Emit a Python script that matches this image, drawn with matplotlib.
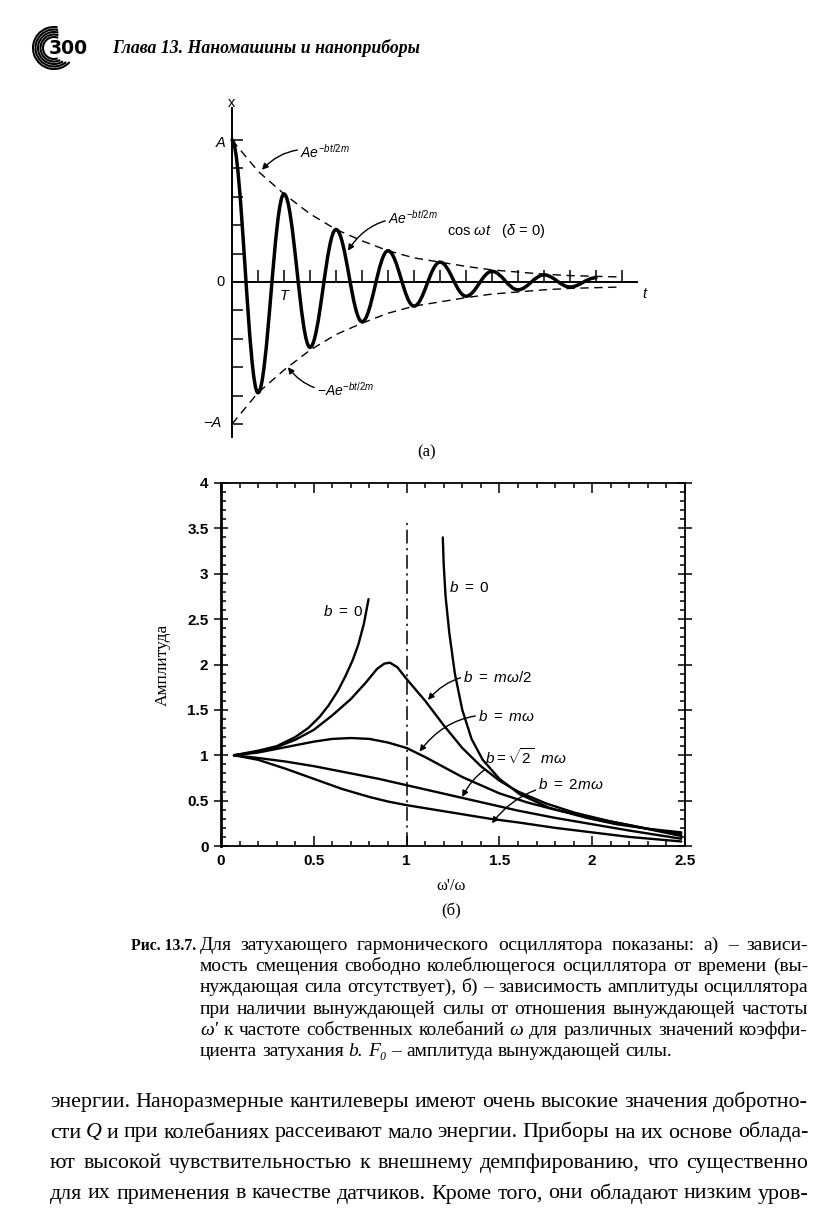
import matplotlib
matplotlib.use('Agg')
import matplotlib.pyplot as plt
from matplotlib.path import Path
from matplotlib.patches import PathPatch, Arc

plt.rcParams['mathtext.fontset'] = 'custom'
plt.rcParams['mathtext.rm'] = 'Liberation Sans'
plt.rcParams['mathtext.it'] = 'Liberation Sans:italic'
plt.rcParams['mathtext.bf'] = 'Liberation Sans:bold'

W, H = 826, 1224

# ---- panel (a): damped oscillation (tick units)
osc_t = [0, 1, 2, 3, 4, 5, 6, 7, 8, 9, 10, 11, 12, 13, 14]
osc_x = [1.0, -0.78, 0.62, -0.46, 0.37, -0.28, 0.22, -0.17, 0.14, -0.10,
         0.075, -0.055, 0.05, -0.035, 0.03]
env_t = [0, 1, 2, 3, 4, 5, 6, 7, 8, 9, 10, 11, 12, 13, 14, 15]
env_amp = [1.0, 0.78, 0.62, 0.48, 0.37, 0.29, 0.22, 0.17, 0.14, 0.11,
           0.085, 0.07, 0.055, 0.045, 0.04, 0.035]
t_ticks = [1, 2, 3, 4, 5, 6, 7, 8, 9, 10, 11, 12, 13, 14, 15]
x_ticks = [-1.0, -0.8, -0.6, -0.4, -0.2, 0.2, 0.4, 0.6, 0.8, 1.0]

# ---- panel (b): amplitude vs w'/w
b0_left_x = [0.07, 0.2, 0.3, 0.4, 0.47, 0.53, 0.58, 0.63, 0.67, 0.71, 0.74, 0.77, 0.795]
b0_left_y = [1.0, 1.05, 1.1, 1.2, 1.3, 1.42, 1.55, 1.71, 1.87, 2.05, 2.22, 2.45, 2.72]
b0_right_x = [1.195, 1.2, 1.21, 1.23, 1.26, 1.3, 1.35, 1.41, 1.5, 1.61, 1.77, 1.97,
              2.13, 2.3, 2.48]
b0_right_y = [3.4, 3.1, 2.75, 2.35, 1.9, 1.5, 1.18, 0.95, 0.74, 0.57, 0.42, 0.31,
              0.24, 0.19, 0.15]
half_x = [0.07, 0.2, 0.3, 0.4, 0.5, 0.6, 0.7, 0.78, 0.84, 0.88, 0.91, 0.95, 1.0, 1.1,
          1.2, 1.3, 1.4, 1.5, 1.6, 1.75, 1.9, 2.1, 2.3, 2.48]
half_y = [1.0, 1.04, 1.09, 1.17, 1.28, 1.44, 1.62, 1.8, 1.95, 2.01, 2.02, 1.97, 1.84, 1.6,
          1.33, 1.08, 0.88, 0.72, 0.6, 0.47, 0.37, 0.27, 0.19, 0.13]
one_x = [0.07, 0.2, 0.3, 0.4, 0.5, 0.6, 0.7, 0.8, 0.9, 1.0, 1.1, 1.2, 1.3, 1.4, 1.5,
         1.65, 1.8, 2.0, 2.2, 2.48]
one_y = [1.0, 1.03, 1.07, 1.11, 1.15, 1.18, 1.19, 1.18, 1.14, 1.08, 0.98, 0.87, 0.76,
         0.67, 0.58, 0.48, 0.4, 0.31, 0.23, 0.11]
sq2_x = [0.07, 0.2, 0.35, 0.5, 0.7, 0.85, 1.0, 1.15, 1.3, 1.45, 1.6, 1.8, 2.0, 2.2, 2.48]
sq2_y = [1.0, 0.97, 0.93, 0.88, 0.8, 0.74, 0.67, 0.6, 0.53, 0.46, 0.39, 0.31, 0.24, 0.17, 0.08]
two_x = [0.07, 0.2, 0.35, 0.5, 0.65, 0.8, 0.9, 1.0, 1.15, 1.3, 1.45, 1.6, 1.8, 2.0, 2.2, 2.48]
two_y = [1.0, 0.95, 0.85, 0.74, 0.63, 0.54, 0.49, 0.45, 0.4, 0.35, 0.3, 0.26, 0.2, 0.15, 0.1, 0.05]

header = 'Глава 13. Наномашины и наноприборы'
caption = [
    'Для затухающего гармонического осциллятора показаны: а) – зависи-',
    'мость смещения свободно колеблющегося осциллятора от времени (вы-',
    'нуждающая сила отсутствует), б) – зависимость амплитуды осциллятора',
    'при наличии вынуждающей силы от отношения вынуждающей частоты',
    "_ω' к частоте собственных колебаний _ω для различных значений коэффи-",
    'циента затухания _b. _F₀ – амплитуда вынуждающей силы.',
]
body = [
    'энергии. Наноразмерные кантилеверы имеют очень высокие значения добротно-',
    'сти _Q и при колебаниях рассеивают мало энергии. Приборы на их основе облада-',
    'ют высокой чувствительностью к внешнему демпфированию, что существенно',
    'для их применения в качестве датчиков. Кроме того, они обладают низким уров-',
]

fig = plt.figure(figsize=(W / 100, H / 100), dpi=100)
fig.patch.set_facecolor('white')

# page overlay in pixel units
pg = fig.add_axes([0, 0, 1, 1])
pg.set_xlim(0, W)
pg.set_ylim(0, H)
pg.axis('off')
renderer = fig.canvas.get_renderer()
SERIF = ['Liberation Serif', 'DejaVu Serif']


def measure(words, size):
    out = []
    for w in words:
        style = 'normal'
        if w.startswith('_'):
            w = w[1:]
            style = 'italic'
        t = pg.text(0, 0, w, fontsize=size, family=SERIF, style=style)
        out.append((w, style, t.get_window_extent(renderer).width))
        t.remove()
    return out


def paragraph(lines, x0, x1, base0, step, size, last_justified, mingap=5):
    # one font size for the whole block, shrunk so every line keeps a word gap
    for line in lines[:len(lines) if last_justified else -1]:
        words = line.split(' ')
        total = sum(i[2] for i in measure(words, size))
        room = x1 - x0 - mingap * (len(words) - 1)
        if total > room:
            size = size * room / total
    for n, line in enumerate(lines):
        items = measure(line.split(' '), size)
        total = sum(i[2] for i in items)
        if (last_justified or n < len(lines) - 1) and len(items) > 1:
            gap = (x1 - x0 - total) / (len(items) - 1)
        else:
            gap = size * 100 / 72 * 0.25
        x = x0
        for w, style, wd in items:
            pg.text(x, H - (base0 + step * n), w, fontsize=size, family=SERIF,
                    style=style, va='baseline', ha='left')
            x += wd + gap


# header with logo
for i, r in enumerate([11, 13.5, 16, 18.5, 21]):
    pg.add_patch(Arc((54, H - 48), 2 * r, 2 * r, theta1=68 + i * 3, theta2=290 + i * 7,
                     lw=1.5, color='k'))
pg.text(49, H - 54, '300', fontsize=13.5, family='DejaVu Sans', weight='heavy',
        va='baseline', ha='left')
pg.text(112, H - 53, header, fontsize=12.8, family=SERIF, weight='bold',
        style='italic', va='baseline', ha='left')

# caption and body text
pg.text(131, H - 950, 'Рис. 13.7.', fontsize=11.3, family=SERIF, weight='bold',
        va='baseline', ha='left')
paragraph(caption, 200, 808, 950, 21.2, 14, False)
paragraph(body, 50, 808, 1107, 30.5, 16.5, True)

# ---------------- panel (a)
ax = fig.add_axes([200 / W, 1 - 445 / H, 460 / W, 350 / H])
ax.set_xlim((200 - 232) / 26, (660 - 232) / 26)
ax.set_ylim((282 - 445) / 142, (282 - 95) / 142)
ax.axis('off')

ax.plot([0, 0], [-1.09, 1.225], color='k', lw=1.4)
ax.plot([0, 15.58], [0, 0], color='k', lw=1.4)
ax.vlines(t_ticks, 0, 0.085, color='k', lw=1.1)
ax.hlines(x_ticks, 0, 0.42, color='k', lw=1.1)

k = 0.3634
verts = [(osc_t[0], osc_x[0])]
codes = [Path.MOVETO]
for j in range(1, len(osc_t)):
    t0, v0 = osc_t[j - 1], osc_x[j - 1]
    t1, v1 = osc_t[j], osc_x[j]
    d = t1 - t0
    verts += [(t0 + k * d, v0), (t1 - k * d, v1), (t1, v1)]
    codes += [Path.CURVE4] * 3
ax.add_patch(PathPatch(Path(verts, codes), fill=False, lw=2.5, color='k',
                       capstyle='round', joinstyle='round'))

ax.plot(env_t, env_amp, color='k', lw=1.0, ls=(0, (6, 4)))
ax.plot(env_t, [-a for a in env_amp], color='k', lw=1.0, ls=(0, (6, 4)))

lab = dict(fontsize=10.5, family='Liberation Sans')
ax.text(0, 1.26, 'x', ha='center', va='center', **lab)
ax.text(-0.42, 0.98, 'A', ha='center', va='center', style='italic', **lab)
ax.text(-0.46, 0, '0', ha='center', va='center', **lab)
ax.text(-0.77, -0.99, '−A', ha='center', va='center', style='italic', **lab)
ax.text(2.0, -0.10, 'T', ha='center', va='center', style='italic', **lab)
ax.text(15.88, -0.085, 't', ha='center', va='center', style='italic', **lab)

arw = dict(arrowstyle='-|>', color='k', lw=1.0, mutation_scale=9,
           shrinkA=0, shrinkB=0)
ax.annotate(r'$Ae^{-bt/2m}$', xy=(1.15, 0.79), xytext=(2.62, 0.915), fontsize=10,
            va='center', ha='left',
            arrowprops=dict(connectionstyle='arc3,rad=0.3', **arw))
ax.annotate(r'$Ae^{-bt/2m}$', xy=(4.46, 0.22), xytext=(6.0, 0.45), fontsize=10,
            va='center', ha='left',
            arrowprops=dict(connectionstyle='arc3,rad=0.3', **arw))
ax.text(8.27, 0.36, r'cos $\omega t$   ($\delta$ = 0)', fontsize=10.5,
        family='Liberation Sans', va='center', ha='left')
ax.annotate(r'$-Ae^{-bt/2m}$', xy=(2.15, -0.60), xytext=(3.27, -0.76), fontsize=10,
            va='center', ha='left',
            arrowprops=dict(connectionstyle='arc3,rad=-0.3', **arw))
pg.text(427, H - 452, '(а)', fontsize=12, family=SERIF, ha='center', va='center')

# ---------------- panel (b)
bx = fig.add_axes([221 / W, 1 - 846 / H, (685 - 221) / W, (846 - 483) / H])
bx.set_xlim(0, 2.5)
bx.set_ylim(0, 4)
for s in bx.spines.values():
    s.set_linewidth(1.3)
bx.spines['left'].set_linewidth(2.0)
bx.set_xticks([0, 0.5, 1, 1.5, 2, 2.5])
bx.set_xticklabels(['0', '0.5', '1', '1.5', '2', '2.5'])
bx.set_yticks([0, 0.5, 1, 1.5, 2, 2.5, 3, 3.5, 4])
bx.set_yticklabels(['0', '0.5', '1', '1.5', '2', '2.5', '3', '3.5', '4'])
bx.set_xticks([i / 10 for i in range(26)], minor=True)
bx.set_yticks([i / 10 for i in range(41)], minor=True)
bx.tick_params(which='both', direction='in', top=True, right=True, width=1.1)
bx.tick_params(which='major', length=7)
bx.tick_params(which='minor', length=3.5)
bx.tick_params(axis='y', which='major', direction='inout', length=10, pad=4)
bx.tick_params(axis='x', which='major', pad=6)
for tl in bx.get_xticklabels() + bx.get_yticklabels():
    tl.set_fontfamily('Liberation Sans')
    tl.set_fontweight('bold')
    tl.set_fontsize(11)

bx.axvline(1.0, ymin=0, ymax=3.6 / 4, color='k', lw=1.1, ls=(0, (9, 3, 1.5, 3)))
cw = dict(color='k', lw=1.7, solid_capstyle='round', solid_joinstyle='round')
bx.plot(b0_left_x, b0_left_y, **cw)
bx.plot(b0_right_x, b0_right_y, **cw)
bx.plot(half_x, half_y, **cw)
bx.plot(one_x, one_y, **cw)
bx.plot(sq2_x, sq2_y, **cw)
bx.plot(two_x, two_y, **cw)

bl = dict(fontsize=11, va='center', ha='left')
bx.text(0.55, 2.58, r'$b\ =\ 0$', **bl)
bx.text(1.23, 2.85, r'$b\ =\ 0$', **bl)
barw = dict(arrowstyle='-|>', color='k', lw=1.0, mutation_scale=9,
            shrinkA=0, shrinkB=0)
bx.annotate(r'$b\ =\ m\omega/2$', xy=(1.115, 1.61), xytext=(1.305, 1.86), **bl,
            arrowprops=dict(connectionstyle='arc3,rad=0.3', **barw))
bx.annotate(r'$b\ =\ m\omega$', xy=(1.07, 1.04), xytext=(1.385, 1.43), **bl,
            arrowprops=dict(connectionstyle='arc3,rad=0.3', **barw))
bx.annotate(r'$b = \sqrt{2}\ \ m\omega$', xy=(1.30, 0.54), xytext=(1.42, 0.98), **bl,
            arrowprops=dict(connectionstyle='arc3,rad=0.3', **barw))
bx.annotate(r'$b\ =\ 2m\omega$', xy=(1.46, 0.25), xytext=(1.71, 0.68), **bl,
            arrowprops=dict(connectionstyle='arc3,rad=0.25', **barw))

pg.text(163, H - 665, 'Амплитуда', fontsize=12.5, family=SERIF, rotation=90,
        ha='center', va='center')
pg.text(451, H - 886, "ω'/ω", fontsize=12, family=SERIF, ha='center', va='center')
pg.text(451, H - 911, '(б)', fontsize=12, family=SERIF, ha='center', va='center')

fig.savefig('out.png', dpi=100)
